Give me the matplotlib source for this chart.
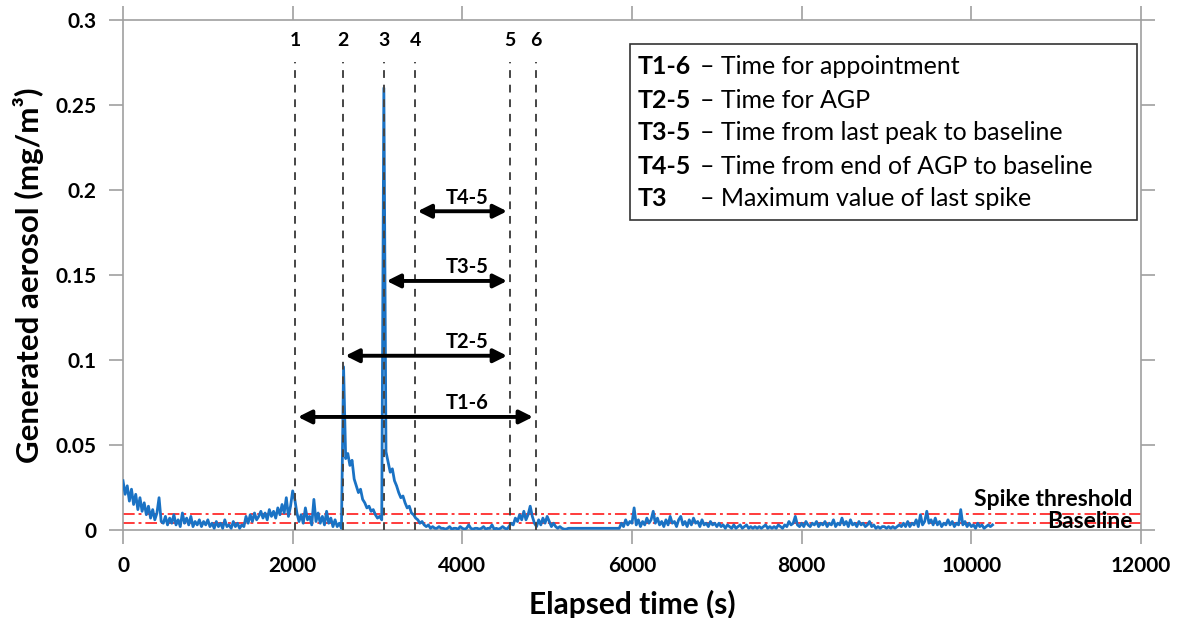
import numpy as np
import matplotlib
matplotlib.use("Agg")
import matplotlib.pyplot as plt

plt.rcParams['font.family'] = ['Lato', 'DejaVu Sans']

# ---- data (sampled every 25 s) ----
sample_step_s = 25
aerosol_0 = [0.029,0.021,0.026,0.017,0.024,0.015,0.021,0.012,0.019,0.011,
             0.016,0.009,0.014,0.007,0.012,0.006,0.010,0.019,0.005,0.004,
             0.008,0.003,0.007,0.004,0.009,0.003,0.006,0.002,0.010,0.004,
             0.007,0.003,0.008,0.002,0.005,0.003,0.006,0.002,0.005,0.003]
aerosol_1000 = [0.006,0.002,0.004,0.001,0.005,0.002,0.004,0.001,0.006,0.002,
                0.003,0.001,0.005,0.002,0.004,0.001,0.003,0.002,0.008,0.004,
                0.009,0.005,0.010,0.006,0.008,0.011,0.007,0.010,0.006,0.012,
                0.008,0.011,0.007,0.013,0.009,0.015,0.010,0.019,0.008,0.014]
aerosol_2000 = [0.023,0.018,0.010,0.005,0.009,0.004,0.013,0.006,0.008,0.003,
                0.018,0.005,0.010,0.004,0.008,0.003,0.011,0.004,0.007,0.002,
                0.006,0.002,0.004,0.001,0.096,0.042,0.045,0.038,0.041,0.030,
                0.026,0.022,0.024,0.018,0.016,0.013,0.014,0.011,0.012,0.009]
aerosol_3000 = [0.007,0.008,0.006,0.260,0.046,0.040,0.034,0.036,0.029,0.026,
                0.022,0.019,0.020,0.016,0.013,0.014,0.010,0.009,0.007,0.006,
                0.004,0.005,0.003,0.002,0.003,0.001,0.002,0.001,0.001,0.002,
                0.001,0.001,0.0005,0.001,0.002,0.0005,0.001,0.001,0.0005,0.002]
aerosol_4000 = [0.001,0.0005,0.001,0.003,0.001,0.0005,0.001,0.001,0.0005,0.001,
                0.002,0.0005,0.001,0.001,0.003,0.0005,0.001,0.0005,0.001,0.002,
                0.001,0.0005,0.002,0.004,0.003,0.007,0.005,0.009,0.006,0.011,
                0.006,0.009,0.014,0.008,0.004,0.002,0.006,0.003,0.007,0.004]
aerosol_5000 = [0.008,0.005,0.002,0.004,0.002,0.001,0.002,0.001,0.0005,0.0005,
                0.001,0.001,0.001,0.001,0.001,0.001,0.001,0.001,0.001,0.001,
                0.001,0.001,0.001,0.001,0.001,0.001,0.001,0.001,0.001,0.001,
                0.001,0.001,0.001,0.001,0.001,0.004,0.002,0.006,0.003,0.005]
aerosol_6000 = [0.004,0.013,0.003,0.006,0.002,0.005,0.003,0.007,0.004,0.006,
                0.011,0.004,0.007,0.003,0.005,0.002,0.006,0.003,0.008,0.004,
                0.005,0.002,0.006,0.008,0.003,0.005,0.002,0.006,0.003,0.007,
                0.004,0.005,0.002,0.006,0.003,0.004,0.002,0.005,0.003,0.004]
aerosol_7000 = [0.002,0.004,0.002,0.003,0.001,0.003,0.002,0.001,0.003,0.001,
                0.002,0.003,0.001,0.002,0.003,0.001,0.002,0.001,0.002,0.001,
                0.002,0.001,0.002,0.003,0.001,0.002,0.001,0.002,0.001,0.003,
                0.002,0.001,0.003,0.002,0.005,0.003,0.004,0.008,0.003,0.002]
aerosol_8000 = [0.004,0.002,0.005,0.003,0.002,0.004,0.003,0.005,0.002,0.004,
                0.003,0.005,0.002,0.004,0.003,0.006,0.002,0.004,0.003,0.007,
                0.003,0.005,0.002,0.006,0.003,0.004,0.002,0.005,0.003,0.004,
                0.002,0.003,0.005,0.002,0.003,0.001,0.002,0.001,0.002,0.002]
aerosol_9000 = [0.001,0.002,0.001,0.002,0.001,0.002,0.003,0.002,0.004,0.002,
                0.005,0.002,0.004,0.003,0.006,0.002,0.009,0.003,0.005,0.011,
                0.004,0.006,0.003,0.007,0.003,0.005,0.002,0.004,0.003,0.006,
                0.003,0.005,0.002,0.004,0.003,0.012,0.003,0.005,0.002,0.004]
aerosol_10000 = [0.002,0.003,0.001,0.004,0.002,0.003,0.001,0.002,0.003,0.002,0.003]

event_times = [2032, 2592, 3078, 3443, 4557, 4863]
event_labels = ['1', '2', '3', '4', '5', '6']

spans = [('T4-5', 3443, 4557, 0.1875),
         ('T3-5', 3078, 4557, 0.1465),
         ('T2-5', 2592, 4557, 0.1025),
         ('T1-6', 2032, 4863, 0.0665)]

spike_threshold = 0.0095
baseline = 0.004

legend_keys = ['T1-6', 'T2-5', 'T3-5', 'T4-5', 'T3']
legend_texts = ['– Time for appointment', '– Time for AGP',
                '– Time from last peak to baseline',
                '– Time from end of AGP to baseline',
                '– Maximum value of last spike']

x_ticks = [0, 2000, 4000, 6000, 8000, 10000, 12000]
y_ticks = [0, 0.05, 0.1, 0.15, 0.2, 0.25, 0.3]

aerosol = np.array(aerosol_0 + aerosol_1000 + aerosol_2000 + aerosol_3000 +
                   aerosol_4000 + aerosol_5000 + aerosol_6000 + aerosol_7000 +
                   aerosol_8000 + aerosol_9000 + aerosol_10000)
time_s = np.arange(len(aerosol)) * sample_step_s

# ---- figure ----
fig = plt.figure(figsize=(11.77, 6.18), dpi=100)
ax = fig.add_axes([123/1177, 1-530/618, (1141-123)/1177, (530-20)/618])

spine_c = '#a0a0a0'
for s in ax.spines.values():
    s.set_color(spine_c)
    s.set_linewidth(1.2)

ax.plot(time_s, aerosol, color='#1a72c4', lw=2.0, zorder=3)

ax.axhline(spike_threshold, color='#ff3b3b', lw=1.4, ls=(0, (6, 2, 1.5, 2)), zorder=2)
ax.axhline(baseline, color='#ff3b3b', lw=1.4, ls=(0, (6, 2, 1.5, 2)), zorder=2)

ax.vlines(event_times, 0, 0.275, colors='#454545', lw=1.4,
          linestyles=(0, (4, 3.5)), zorder=4)
for t, lab in zip(event_times, event_labels):
    ax.text(t, 0.288, lab, ha='center', va='center', fontsize=14, fontweight='bold')

for lab, x0, x1, y in spans:
    ax.annotate('', xy=(x0 + 30, y), xytext=(x1 - 30, y),
                arrowprops=dict(arrowstyle='<|-|>', color='black', lw=2.8,
                                mutation_scale=20, shrinkA=0, shrinkB=0), zorder=5)
    ax.text(4060, y + 0.008, lab, ha='center', va='center', fontsize=14.5,
            fontweight='bold')

ax.text(11900, 0.0178, 'Spike threshold', ha='right', va='center', fontsize=16.5,
        fontweight='bold')
ax.text(11900, 0.0048, 'Baseline', ha='right', va='center', fontsize=16.5,
        fontweight='bold')

# legend box
box_x0 = (630 - 123) / (1141 - 123) * 12000
box_x1 = (1137 - 123) / (1141 - 123) * 12000
ax.add_patch(plt.Rectangle((box_x0, 0.1824), box_x1 - box_x0, 0.2859 - 0.1824,
                           facecolor='white', edgecolor='#333333', lw=1.2, zorder=6))
key_x = (638 - 123) / (1141 - 123) * 12000
txt_x = (700 - 123) / (1141 - 123) * 12000
for i, (k, t) in enumerate(zip(legend_keys, legend_texts)):
    yy = (530 - (67 + i * 33)) / 1700
    ax.text(key_x, yy, k, ha='left', va='center', fontsize=18, fontweight='bold', zorder=7)
    ax.text(txt_x, yy, t, ha='left', va='center', fontsize=18, zorder=7)

ax.set_xlim(0, 12000)
ax.set_ylim(0, 0.3)
ax.set_xticks(x_ticks)
ax.set_yticks(y_ticks)
ax.set_yticklabels(['%g' % v for v in y_ticks])
ax.tick_params(axis='both', which='both', direction='out', length=10, width=1.2,
               color=spine_c, labelsize=15, pad=9, top=True, right=True)
for lab in ax.get_xticklabels() + ax.get_yticklabels():
    lab.set_fontweight('bold')

ax.set_xlabel('Elapsed time (s)', fontsize=21.5, fontweight='bold', labelpad=10)
ax.set_ylabel('Generated aerosol (mg/m³)', fontsize=22.5, fontweight='bold', labelpad=8)

fig.savefig('out.png', dpi=100)
